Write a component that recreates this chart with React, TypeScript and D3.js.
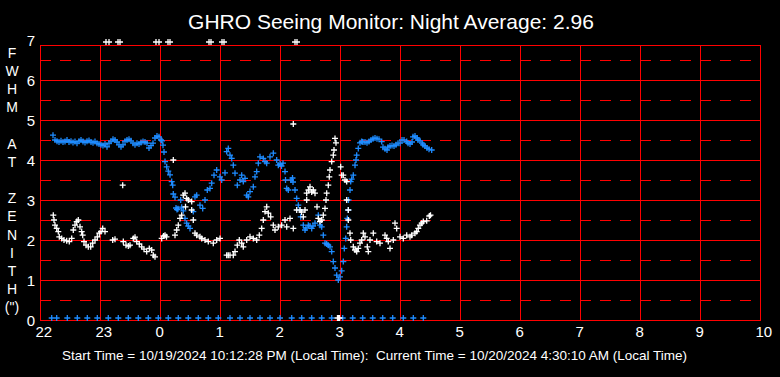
import React, { useEffect } from "react";
import * as d3 from "d3";

// Time is expressed in minutes after 22:00 (local time)
const blueSeries: [number, number][] = [
  [13, 4.62], [15, 4.5], [17, 4.47], [19, 4.45], [21, 4.48], [23, 4.45], [25, 4.46], [27, 4.5], [29, 4.45],
  [31, 4.47], [33, 4.44], [35, 4.46], [37, 4.42], [39, 4.47], [41, 4.5], [43, 4.46], [45, 4.44], [47, 4.47],
  [49, 4.49], [51, 4.45], [53, 4.43], [55, 4.46], [57, 4.42], [59, 4.4], [61, 4.38], [63, 4.36], [65, 4.4],
  [67, 4.33], [69, 4.42], [71, 4.47], [73, 4.52], [75, 4.5], [77, 4.45], [79, 4.38], [81, 4.33], [83, 4.38],
  [85, 4.47], [87, 4.5], [89, 4.52], [91, 4.48], [93, 4.42], [95, 4.38], [97, 4.42], [99, 4.4], [101, 4.44],
  [103, 4.46], [105, 4.45], [107, 4.42], [109, 4.3], [111, 4.36], [113, 4.42], [115, 4.55], [117, 4.6],
  [119, 4.58], [121, 4.5], [122, 4.48], [123, 4.37], [124, 4.2], [125, 3.96], [126.7, 3.83], [128.3, 3.72],
  [130, 3.63], [131.7, 3.46], [132.7, 3.37], [133.3, 3.15], [135, 3.07], [136, 2.8], [137, 2.76], [138, 2.78],
  [140.7, 3.0], [141.7, 2.82], [143.3, 2.73], [145, 2.54], [146.7, 2.42], [148.3, 2.35], [150, 2.29],
  [153.3, 2.71], [155, 3.08], [156.7, 3.12], [160, 2.87], [162.7, 2.79], [165, 3.0], [167.3, 3.25], [170, 3.29],
  [171.7, 3.42], [174, 3.62], [176.7, 3.75], [180, 3.58], [181.7, 3.5], [185, 3.68], [186.7, 4.21],
  [188.3, 4.29], [190, 4.12], [191.7, 4.04], [193.3, 3.87], [195, 3.67], [197.3, 3.37], [200, 3.5],
  [201.7, 3.62], [203.3, 3.46], [205, 3.54], [206.7, 3.12], [208.3, 3.08], [210, 3.21], [213.3, 3.33],
  [215, 3.58], [216.7, 3.71], [218.3, 3.92], [220, 4.08], [223.3, 4.04], [225, 3.96], [226.7, 3.92],
  [230, 4.08], [233.3, 4.17], [236.7, 4.0], [238.3, 3.87], [240, 3.9], [241.5, 3.85], [243, 3.92],
  [245, 3.71], [245.5, 3.5], [246.7, 3.29], [248.3, 3.25], [251, 3.5], [252.5, 3.55], [253, 3.45], [255, 3.25],
  [256.7, 3.04], [258.3, 2.87], [260, 2.75], [260.7, 2.58], [263.3, 2.37], [265, 2.25], [266, 2.3],
  [268.3, 2.37], [270, 2.35], [271.7, 2.29], [273, 2.35], [275, 2.42], [278.3, 2.62], [280, 2.37],
  [281.7, 2.33], [283.3, 2.12], [285, 1.92], [286.7, 1.9], [288.3, 1.87], [290, 1.83], [291.7, 1.71],
  [293.3, 1.46], [295, 1.3], [296.7, 1.12], [298.3, 1.0], [300, 1.08], [301.7, 1.23], [303.3, 1.46],
  [304.3, 1.79], [305.7, 2.04], [306.7, 2.33], [307.3, 2.54], [308.3, 2.75], [308.5, 3.0], [310, 3.25],
  [310.7, 3.46], [311.7, 3.52], [313.3, 3.62], [315, 3.87], [316, 4.0], [316.7, 4.12], [318.3, 4.29],
  [320, 4.43], [321.7, 4.46], [323, 4.45], [325, 4.45], [327, 4.43], [329, 4.46], [331, 4.5], [333, 4.53],
  [335, 4.55], [337, 4.53], [339, 4.52], [341.7, 4.46], [343, 4.32], [345, 4.28], [347, 4.25], [348, 4.32],
  [350, 4.35], [352, 4.36], [354, 4.35], [356, 4.38], [358, 4.42], [360, 4.42], [362, 4.5], [364, 4.5],
  [366.7, 4.46], [368, 4.42], [370, 4.4], [372, 4.45], [373, 4.58], [375, 4.6], [377, 4.55], [378, 4.5],
  [380, 4.48], [382, 4.42], [383, 4.38], [385, 4.35], [387, 4.3], [389, 4.27], [391.7, 4.25],
];

const whiteSeries: [number, number][] = [
  [13.3, 2.62], [14, 2.5], [15, 2.37], [16.7, 2.29], [18.3, 2.21], [19.3, 2.08], [21.7, 2.04], [24, 2.0],
  [26.7, 1.98], [29.3, 1.96], [31.7, 2.04], [33.3, 2.25], [35, 2.37], [36.7, 2.46], [38.3, 2.5], [40, 2.33],
  [41.7, 2.21], [42.7, 2.12], [44, 1.96], [46, 1.87], [48.3, 1.83], [50.7, 1.83], [52.7, 1.92], [55, 2.0],
  [57.3, 2.08], [59.3, 2.17], [61, 2.21], [62.7, 2.29], [65, 2.21], [72.7, 2.0], [75, 2.02], [82.7, 3.37],
  [83.3, 1.96], [86, 1.87], [88.3, 1.85], [90, 1.87], [93.3, 2.04], [95, 2.07], [96.7, 1.96], [99.3, 1.9],
  [101.7, 1.83], [104, 1.77], [106.7, 1.71], [109.3, 1.79], [111.7, 1.75], [113.3, 1.62], [115, 1.58],
  [121.7, 2.04], [123.5, 2.1], [125, 2.12], [126.5, 2.08], [133.3, 4.0], [135, 2.12], [136.7, 2.25],
  [138.3, 2.37], [140, 2.54], [141.7, 2.62], [143.3, 3.12], [145, 3.17], [146.7, 3.04], [148.3, 3.0],
  [145.5, 2.83], [151.7, 2.96], [151.7, 2.75], [153.3, 2.5], [155, 2.17], [156.7, 2.12], [160, 2.08],
  [161.7, 2.04], [165, 2.0], [168.3, 1.96], [173.3, 1.92], [176.7, 2.0], [180, 2.04], [186.7, 1.62],
  [188.3, 1.62], [190, 1.62], [193.3, 1.62], [195, 1.71], [197.3, 1.87], [199.3, 2.0], [201.7, 1.92],
  [203.3, 1.83], [206.7, 2.0], [210, 2.08], [213.3, 2.04], [216.7, 2.0], [219.3, 2.12], [221.7, 2.29],
  [223.3, 2.5], [225, 2.71], [226.7, 2.83], [228.3, 2.67], [230.7, 2.58], [233.3, 2.37], [235, 2.25],
  [238.3, 2.33], [241.7, 2.37], [245, 2.5], [246.7, 2.33], [250, 2.54], [253.3, 2.29], [253.3, 4.9],
  [256.7, 2.75], [260, 2.75], [261.5, 2.7], [263.3, 2.58], [265, 2.75], [266.7, 3.0], [266.7, 3.17],
  [268.5, 3.25], [270, 3.33], [271.7, 3.2], [273.3, 3.25], [275, 3.17], [277, 2.83], [278.3, 2.54],
  [280, 2.46], [281.7, 2.5], [283.3, 2.62], [285, 2.79], [286, 3.0], [286.7, 3.17], [288.3, 3.37],
  [289.3, 3.58], [290, 3.75], [291.7, 3.96], [293.3, 4.12], [294, 4.25], [295, 4.54], [296, 4.43],
  [300.7, 3.83], [301.7, 3.62], [303.3, 3.62], [305, 3.5], [306.7, 3.46], [306.7, 3.0], [308.3, 2.75],
  [308.3, 2.5], [310, 2.17], [310.7, 2.0], [313.3, 1.83], [315, 1.75], [316.7, 1.71], [318.3, 1.79],
  [320, 1.92], [321.7, 2.0], [323.3, 2.17], [325, 2.08], [327.3, 1.83], [328.3, 1.71], [330, 2.0],
  [333.3, 2.17], [336.7, 1.96], [340, 1.92], [345, 2.12], [346.7, 2.04], [348.3, 1.96], [350, 1.79],
  [353.3, 2.0], [355, 2.42], [356.7, 2.29], [360, 2.08], [363.3, 2.04], [366.7, 2.12], [370, 2.08],
  [371.7, 2.12], [375, 2.17], [376.7, 2.21], [378.3, 2.29], [380, 2.37], [381.7, 2.42], [383.3, 2.46],
  [386.7, 2.48], [389.3, 2.6], [390.5, 2.62],
];

// Readings reported off-scale (drawn at the top edge)
const whiteHigh: number[] = [66, 69, 78, 80, 116, 119, 128, 130, 169, 171, 182, 184, 255, 257];
const highValue = 6.95;

// Readings reported as zero
const blueZero: number[] = [
  11.7, 16.7, 27.3, 37.3, 47.3, 57.3, 68.3, 78.3, 88.3, 98.3, 108.3, 118.3, 128.3, 138.3, 148.3, 158.3,
  168.3, 178.3, 190, 200, 210, 220, 230, 240, 251.7, 261.7, 271.7, 281.7, 291.7, 302.7, 312.7, 322.7,
  332.7, 342.7, 352.7, 363.3, 373.3, 383.3,
];
const whiteZero: number[] = [297.5, 298.5, 299.5];
const zeroValue = 0.05;

const xTickHours = [22, 23, 24, 25, 26, 27, 28, 29, 30, 31, 32, 33, 34];
const yTicks = [0, 1, 2, 3, 4, 5, 6, 7];
const yLabelLetters = ["F", "W", "H", "M", "", "A", "T", "", "Z", "E", "N", "I", "T", "H", "(\")"];

const title = "GHRO Seeing Monitor: Night Average: 2.96";
const footer =
  "Start Time = 10/19/2024 10:12:28 PM (Local Time):  Current Time = 10/20/2024 4:30:10 AM (Local Time)";

const W = 780;
const H = 377;
const FONT = "'Liberation Sans', Arial, Helvetica, sans-serif";
const RED = "#ff0000";
const BLUE = "#1e8cff";

export default function App() {
  useEffect(() => {
    document.body.style.margin = "0";
    document.body.style.background = "#000";
  }, []);

  const x = d3.scaleLinear().domain([22, 34]).range([40, 760]);
  const y = d3.scaleLinear().domain([0, 7]).range([320, 40]);
  const frameTop = 45;
  const xm = (m: number) => x(22 + m / 60);

  const cross = (cx: number, cy: number) =>
    `M${cx - 3},${cy}H${cx + 3}M${cx},${cy - 3}V${cy + 3}`;

  const path = (pts: [number, number][]) => pts.map(([m, v]) => cross(xm(m), y(v))).join("");

  const dashed = d3.range(0.5, 7, 1);
  const solid = d3.range(1, 7, 1);

  return (
    <svg width={W} height={H} style={{ display: "block", background: "#000" }} fontFamily={FONT}>
      <rect x={0} y={0} width={W} height={H} fill="#000" />
      <text x={391} y={29} fill="#fff" fontSize={21} textAnchor="middle">
        {title}
      </text>

      {/* grid */}
      <g shapeRendering="crispEdges" stroke={RED} strokeWidth={1}>
        {dashed.map((v) => (
          <line key={"d" + v} x1={x(22)} x2={x(34)} y1={y(v)} y2={y(v)} strokeDasharray="11 9" />
        ))}
        {solid.map((v) => (
          <line key={"s" + v} x1={x(22)} x2={x(34)} y1={y(v)} y2={y(v)} />
        ))}
        {xTickHours.slice(1, -1).map((h) => (
          <line key={"v" + h} x1={x(h)} x2={x(h)} y1={frameTop} y2={y(0)} />
        ))}
        <rect x={x(22)} y={frameTop} width={x(34) - x(22)} height={y(0) - frameTop} fill="none" />
      </g>

      {/* y tick labels */}
      {yTicks.map((v) => (
        <text key={"yl" + v} x={35} y={y(v) + 5.5} fill="#fff" fontSize={15} textAnchor="end">
          {v}
        </text>
      ))}
      {/* x tick labels */}
      {xTickHours.map((h) => (
        <text key={"xl" + h} x={x(h) - 4.5} y={337} fill="#fff" fontSize={15} textAnchor="start">
          {h % 24}
        </text>
      ))}

      {/* vertical axis title, stacked letters */}
      {yLabelLetters.map((c, i) => (
        <text key={"lt" + i} x={12} y={57.5 + i * 18.2} fill="#fff" fontSize={14} textAnchor="middle">
          {c}
        </text>
      ))}

      <text x={62} y={360} fill="#fff" fontSize={13.5} style={{ whiteSpace: "pre" }}>
        {footer}
      </text>

      {/* data */}
      <g fill="none" strokeWidth={1.3}>
        <path d={path(blueSeries)} stroke={BLUE} />
        <path d={blueZero.map((m) => cross(xm(m), y(zeroValue))).join("")} stroke={BLUE} />
        <path d={path(whiteSeries)} stroke="#fff" />
        <path d={whiteHigh.map((m) => cross(xm(m), y(highValue))).join("")} stroke="#fff" />
        <path d={whiteZero.map((m) => cross(xm(m), y(zeroValue))).join("")} stroke="#fff" />
      </g>
    </svg>
  );
}
